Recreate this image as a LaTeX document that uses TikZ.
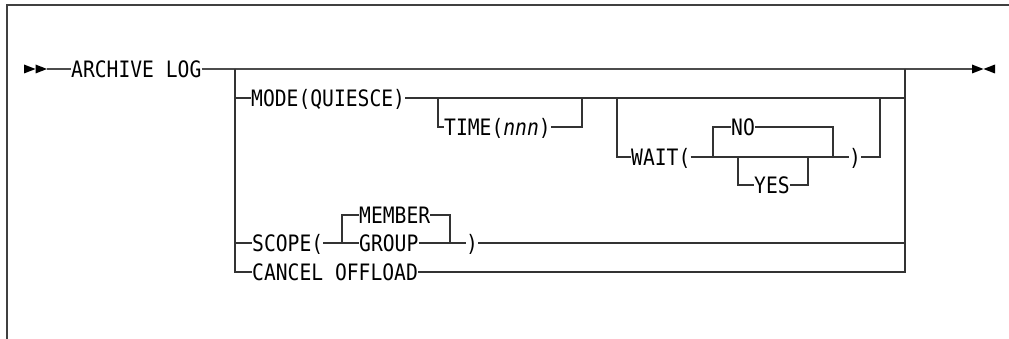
\documentclass[tikz,border=0pt]{standalone}
\usepackage{fontspec}
\newfontfamily\synfont{DejaVu Sans Mono}[FakeStretch=0.87]
\tikzset{
  word/.style={inner sep=0pt, anchor=west, text height=16.5pt, text depth=0pt,
    font=\synfont\fontsize{22.6}{24}\selectfont},
  rail/.style={line width=1.1pt, black!80},
  mainrail/.style={line width=1.5pt, black!70},
  frame/.style={line width=1.8pt, black!75},
  syntip/.pic={\fill (0,-4.5) -- (11.5,0) -- (0,4.5) -- cycle;}
}
\begin{document}
\begin{tikzpicture}[x=1pt, y=-1pt]
  \useasboundingbox (0,0) rectangle (1009,339);
  % Cadre
  \draw[frame] (7,339) -- (7,5) -- (1009,5);
  % Ligne principale
  \coordinate (start) at (47,69);
  \coordinate (jl) at (235,69);
  \coordinate (jr) at (905,69);
  \coordinate (stop) at (972,69);
  \pic at (24,69) {syntip};
  \pic at (35.5,69) {syntip};
  \pic at (972,69) {syntip};
  \pic[rotate=180] at (995,69) {syntip};
  \node[word] (archive) at (71,69) {ARCHIVE LOG};
  \draw[mainrail] (start) -- (archive.west);
  \draw[mainrail] (archive.east) -- (stop);
  % Mots
  \node[word] (mode) at (251,98) {MODE(QUIESCE)};
  \node[word] (time) at (444,127) {TIME(\textit{nnn})};
  \node[word] (wait) at (631,157) {WAIT(};
  \node[word] (no) at (731,127) {NO};
  \node[word] (yes) at (754,185) {YES};
  \node[word] (wclose) at (849,157) {)};
  \node[word] (scope) at (252,243) {SCOPE(};
  \node[word] (member) at (359,215) {MEMBER};
  \node[word] (group) at (359,243) {GROUP};
  \node[word] (sclose) at (466,243) {)};
  \node[word] (cancel) at (252,272) {CANCEL OFFLOAD};
  % Choix
  \draw[rail] (jl) |- (cancel.west);
  \draw[rail] (jr) |- (cancel.east);
  \draw[rail] (jl |- mode.west) -- (mode.west);
  \draw[rail] (jl |- scope.west) -- (scope.west);
  \draw[rail] (mode.east) -- (jr |- mode.east);
  \draw[rail] (sclose.east) -- (jr |- sclose.east);
  % TIME
  \coordinate (t1) at (438,98);
  \coordinate (t2) at (582,98);
  \draw[rail] (t1) |- (time.west);
  \draw[rail] (time.east) -| (t2);
  % WAIT
  \coordinate (w1) at (617,98);
  \coordinate (w2) at (880,98);
  \draw[rail] (w1) |- (wait.west);
  \draw[rail] (wait.east) -- (wclose.west);
  \draw[rail] (wclose.east) -| (w2);
  \coordinate (n1) at (713,157);
  \coordinate (n2) at (833,157);
  \draw[rail] (n1) |- (no.west);
  \draw[rail] (no.east) -| (n2);
  \coordinate (y1) at (738,157);
  \coordinate (y2) at (808,157);
  \draw[rail] (y1) |- (yes.west);
  \draw[rail] (yes.east) -| (y2);
  % SCOPE
  \coordinate (s1) at (342,243);
  \coordinate (s2) at (450,243);
  \draw[rail] (scope.east) -- (group.west);
  \draw[rail] (group.east) -- (sclose.west);
  \draw[rail] (s1) |- (member.west);
  \draw[rail] (member.east) -| (s2);
\end{tikzpicture}
\end{document}
